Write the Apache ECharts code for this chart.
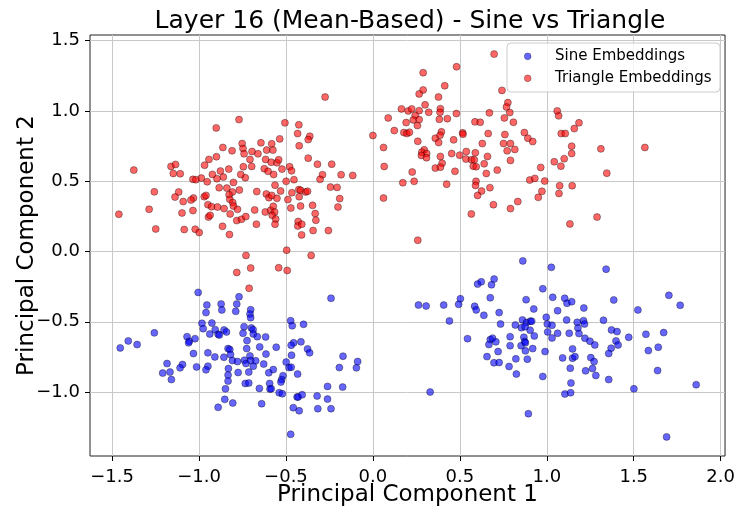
<!DOCTYPE html>
<html>
<head>
<meta charset="utf-8">
<script src="https://cdn.jsdelivr.net/npm/echarts@6/dist/echarts.min.js"></script>
<style>
  html, body { margin: 0; padding: 0; background: #fff; }
  #chart { width: 738px; height: 512px; }
</style>
</head>
<body>
<div id="chart"></div>
<script>
// PCA projection of layer-16 mean embeddings: [PC1, PC2] per sample
const sinePoints = [
  [-1.005,-0.291],[-0.955,-0.381],[-0.960,-0.435],[-0.873,-0.374],[-0.869,-0.416],[-1.257,-0.579],[-1.407,-0.636],[-1.356,-0.662],[-1.453,-0.686],[-0.983,-0.511],
  [-0.926,-0.509],[-0.976,-0.549],[-0.938,-0.587],[-0.907,-0.556],[-0.890,-0.589],[-0.883,-0.594],[-0.856,-0.558],[-0.842,-0.572],[-1.069,-0.606],[-1.056,-0.638],
  [-1.060,-0.650],[-1.023,-0.620],[-1.032,-0.726],[-0.949,-0.721],[-0.909,-0.750],[-0.857,-0.752],[-0.833,-0.691],[-0.823,-0.698],[-0.819,-0.733],[-0.808,-0.776],
  [-1.184,-0.797],[-1.095,-0.804],[-1.109,-0.828],[-1.209,-0.865],[-1.167,-0.858],[-1.159,-0.911],[-1.014,-0.821],[-0.949,-0.816],[-0.960,-0.842],[-0.831,-0.833],
  [-0.833,-0.879],[-0.833,-0.922],[-0.848,-0.977],[-0.852,-1.052],[-0.806,-1.078],[-0.890,-1.109],
  [-0.241,-0.333],[-0.770,-0.322],[-0.783,-0.374],[-0.789,-0.426],[-0.703,-0.414],[-0.707,-0.445],[-0.703,-0.471],[-0.741,-0.535],[-0.747,-0.582],[-0.699,-0.544],
  [-0.689,-0.556],[-0.688,-0.587],[-0.665,-0.606],[-0.617,-0.608],[-0.724,-0.634],[-0.726,-0.691],[-0.651,-0.679],[-0.615,-0.730],[-0.556,-0.681],[-0.473,-0.492],
  [-0.464,-0.528],[-0.399,-0.518],[-0.414,-0.643],[-0.456,-0.650],[-0.470,-0.667],[-0.376,-0.693],[-0.364,-0.721],[-0.468,-0.738],[-0.779,-0.783],[-0.739,-0.773],
  [-0.730,-0.797],[-0.707,-0.743],[-0.703,-0.776],[-0.674,-0.778],[-0.688,-0.816],[-0.628,-0.801],[-0.775,-0.861],[-0.714,-0.858],[-0.599,-0.863],[-0.573,-0.840],
  [-0.499,-0.787],[-0.483,-0.826],[-0.470,-0.823],[-0.433,-0.872],[-0.517,-0.884],[-0.525,-0.911],[-0.529,-0.929],[-0.734,-0.939],[-0.714,-0.936],[-0.594,-0.939],
  [-0.592,-0.979],[-0.585,-0.977],[-0.653,-0.974],[-0.539,-1.005],[-0.521,-1.012],[-0.436,-1.035],[-0.430,-1.035],[-0.407,-1.019],[-0.321,-1.028],[-0.261,-0.960],
  [-0.261,-1.050],[-0.174,-0.965],[-0.193,-0.826],[-0.172,-0.745],[-0.095,-0.828],[-0.088,-0.783],[-0.640,-1.083],[-0.458,-1.111],[-0.424,-1.133],[-0.317,-1.118],
  [-0.241,-1.118],[-0.473,-1.301],
  [0.862,-0.067],[0.602,-0.232],[0.623,-0.216],[0.697,-0.196],[0.682,-0.237],[0.977,-0.265],[0.675,-0.329],[0.881,-0.343],[0.503,-0.336],[0.493,-0.376],
  [0.262,-0.381],[0.306,-0.388],[0.407,-0.381],[0.585,-0.390],[0.594,-0.416],[0.638,-0.454],[0.726,-0.435],[0.925,-0.409],[0.440,-0.494],[0.734,-0.516],
  [0.819,-0.523],[0.854,-0.542],[0.860,-0.487],[0.883,-0.506],[0.905,-0.496],[0.913,-0.496],[0.904,-0.560],[0.875,-0.535],[0.544,-0.620],[0.675,-0.627],
  [0.688,-0.617],[0.667,-0.662],[0.707,-0.643],[0.789,-0.606],[0.789,-0.670],[0.868,-0.610],[0.873,-0.641],[0.852,-0.670],[0.877,-0.650],[0.928,-0.601],
  [0.720,-0.712],[0.919,-0.691],[0.877,-0.707],[0.990,-0.712],[0.656,-0.748],[0.696,-0.792],[0.726,-0.790],[0.822,-0.764],[0.888,-0.766],[0.783,-0.818],
  [0.825,-0.872],[0.977,-0.889],[0.329,-1.000],[0.894,-1.154],[0.997,-0.468],[1.003,-0.516],[1.005,-0.572],
  [1.026,-0.113],[1.341,-0.126],[1.034,-0.326],[1.103,-0.333],[1.116,-0.369],[1.143,-0.357],[1.213,-0.402],[1.385,-0.345],[1.062,-0.421],[1.030,-0.525],
  [1.030,-0.615],[1.114,-0.487],[1.175,-0.504],[1.211,-0.492],[1.217,-0.516],[1.179,-0.544],[1.185,-0.584],[1.062,-0.582],[1.129,-0.582],[1.326,-0.489],
  [1.372,-0.558],[1.404,-0.570],[1.471,-0.610],[1.219,-0.617],[1.248,-0.638],[1.276,-0.665],[1.398,-0.636],[1.410,-0.665],[1.370,-0.688],[1.356,-0.726],
  [1.524,-0.416],[1.702,-0.312],[1.767,-0.383],[1.570,-0.589],[1.672,-0.577],[1.584,-0.705],[1.641,-0.681],[1.148,-0.693],[1.091,-0.757],[1.148,-0.759],
  [1.162,-0.748],[1.253,-0.755],[1.272,-0.783],[1.135,-0.830],[1.223,-0.849],[1.263,-0.833],[1.282,-0.882],[1.356,-0.911],[1.637,-0.847],[1.139,-0.936],
  [1.104,-1.014],[1.137,-1.005],[1.501,-0.977],[1.859,-0.948],[1.689,-1.319]
];

const trianglePoints = [
  [-0.770,0.938],[-0.901,0.879],[-0.752,0.768],[-0.747,0.733],[-0.741,0.695],[-0.734,0.525],[-0.745,0.603],[-0.760,0.548],[-0.863,0.740],[-0.810,0.716],
  [-0.900,0.674],[-0.943,0.655],[-0.968,0.614],[-1.161,0.605],[-1.135,0.619],[-1.148,0.555],[-1.108,0.553],[-1.375,0.579],[-0.829,0.586],[-0.877,0.572],
  [-0.860,0.529],[-0.923,0.548],[-0.897,0.518],[-1.035,0.513],[-1.018,0.511],[-0.987,0.522],[-0.953,0.496],[-0.802,0.491],[-0.768,0.437],[-0.840,0.451],
  [-0.884,0.454],[-0.808,0.423],[-1.257,0.424],[-1.117,0.423],[-1.138,0.387],[-1.032,0.380],[-1.091,0.355],[-1.046,0.366],[-0.970,0.390],[-0.960,0.399],
  [-0.827,0.404],[-0.823,0.371],[-0.806,0.348],[-0.802,0.323],[-0.779,0.300],[-0.949,0.333],[-0.928,0.319],[-0.894,0.316],[-0.856,0.305],[-0.821,0.267],
  [-1.287,0.300],[-1.098,0.274],[-1.035,0.291],[-0.946,0.245],[-0.936,0.257],[-0.783,0.220],[-0.756,0.229],[-0.731,0.248],[-1.249,0.160],[-1.085,0.156],
  [-1.022,0.158],[-0.999,0.135],[-0.865,0.179],[-0.825,0.121],[-0.730,-0.028],[-0.783,-0.149],[-1.461,0.265],[-0.712,-0.262],
  [-0.275,1.099],[-0.506,0.915],[-0.426,0.901],[-0.433,0.839],[-0.363,0.820],[-0.372,0.796],[-0.536,0.801],[-0.644,0.773],[-0.582,0.766],[-0.424,0.752],
  [-0.695,0.711],[-0.661,0.695],[-0.611,0.721],[-0.575,0.721],[-0.707,0.655],[-0.697,0.605],[-0.617,0.655],[-0.585,0.635],[-0.552,0.631],[-0.542,0.652],
  [-0.372,0.664],[-0.319,0.621],[-0.237,0.621],[-0.625,0.589],[-0.603,0.570],[-0.571,0.548],[-0.523,0.586],[-0.479,0.603],[-0.468,0.574],[-0.290,0.546],
  [-0.304,0.513],[-0.183,0.546],[-0.116,0.541],[-0.499,0.499],[-0.454,0.511],[-0.563,0.472],[-0.531,0.430],[-0.668,0.426],[-0.613,0.409],[-0.598,0.383],
  [-0.582,0.399],[-0.552,0.378],[-0.489,0.369],[-0.466,0.418],[-0.426,0.440],[-0.416,0.435],[-0.387,0.423],[-0.376,0.428],[-0.424,0.390],[-0.244,0.458],
  [-0.206,0.456],[-0.191,0.376],[-0.201,0.316],[-0.680,0.295],[-0.619,0.281],[-0.588,0.293],[-0.573,0.321],[-0.565,0.281],[-0.579,0.257],[-0.559,0.231],
  [-0.472,0.309],[-0.416,0.323],[-0.347,0.328],[-0.332,0.270],[-0.328,0.222],[-0.670,0.194],[-0.563,0.194],[-0.430,0.213],[-0.432,0.182],[-0.409,0.194],
  [-0.410,0.118],[-0.344,0.149],[-0.256,0.149],[-0.496,0.009],[-0.355,-0.028],[-0.703,-0.118],[-0.542,-0.116],[-0.493,-0.135],
  [0.697,1.404],[0.481,1.314],[0.289,1.272],[0.413,1.179],[0.289,1.149],[0.266,1.121],[0.742,1.146],[0.377,1.099],[0.300,1.043],[0.164,1.014],
  [0.203,1.000],[0.223,1.014],[0.266,1.002],[0.321,0.990],[0.388,1.016],[0.386,0.990],[0.243,0.967],[0.232,0.936],[0.266,0.938],[0.191,0.917],
  [0.256,0.896],[0.088,0.950],[0.382,0.940],[0.428,0.945],[0.480,0.981],[0.587,0.922],[0.617,0.919],[0.670,0.986],[0.123,0.860],[0.178,0.846],
  [0.195,0.839],[0.210,0.848],[0.000,0.825],[0.258,0.784],[0.359,0.806],[0.394,0.851],[0.386,0.827],[0.378,0.775],[0.464,0.794],[0.516,0.844],
  [0.518,0.834],[0.663,0.839],[0.629,0.768],[0.061,0.740],[0.295,0.723],[0.281,0.706],[0.309,0.697],[0.279,0.683],[0.308,0.667],[0.388,0.676],
  [0.453,0.697],[0.499,0.685],[0.537,0.711],[0.589,0.702],[0.659,0.676],[0.535,0.657],[0.567,0.652],[0.583,0.652],[0.577,0.607],[0.594,0.603],
  [0.640,0.624],[0.398,0.628],[0.359,0.593],[0.388,0.600],[0.065,0.605],[0.226,0.565],[0.472,0.570],[0.652,0.555],[0.715,0.579],[0.172,0.489],
  [0.237,0.499],[0.424,0.479],[0.593,0.499],[0.590,0.470],[0.625,0.430],[0.673,0.454],[0.602,0.399],[0.061,0.380],[0.693,0.333],[0.566,0.267],
  [0.258,0.080],
  [0.776,1.059],[0.768,1.028],[0.787,0.988],[0.756,0.950],[0.808,0.919],[0.759,0.832],[0.871,0.846],[0.891,0.806],[0.919,0.782],[0.751,0.768],
  [0.791,0.768],[0.772,0.716],[0.816,0.726],[0.791,0.648],[1.060,1.000],[1.068,0.965],[1.185,0.915],[1.158,0.874],[1.083,0.839],[1.106,0.839],
  [1.143,0.749],[1.143,0.697],[1.100,0.660],[1.043,0.638],[1.081,0.607],[1.311,0.730],[1.564,0.740],[1.345,0.557],[0.965,0.598],[0.902,0.508],
  [0.931,0.520],[0.988,0.501],[1.074,0.468],[1.146,0.468],[0.972,0.428],[1.070,0.413],[0.951,0.385],[0.833,0.355],[0.791,0.305],[1.289,0.245],
  [1.133,0.196]
];

const xTicks = [-1.5, -1.0, -0.5, 0.0, 0.5, 1.0, 1.5, 2.0];
const yTicks = [-1.0, -0.5, 0.0, 0.5, 1.0, 1.5];
const seriesNames = ['Sine Embeddings', 'Triangle Embeddings'];
const seriesColors = ['rgba(0,0,255,0.6)', 'rgba(255,0,0,0.6)'];

const FONT = 'DejaVu Sans';
const EDGE = 'rgba(0,0,0,0.6)';
const fmt = v => (v < 0 ? '\u2212' : '') + Math.abs(v).toFixed(1);

const chart = echarts.init(document.getElementById('chart'), null, { renderer: 'canvas' });

const axisCommon = {
  type: 'value',
  nameLocation: 'middle',
  nameMoveOverlap: false,
  nameTextStyle: { fontFamily: FONT, fontSize: 23, color: '#000' },
  axisLine: { show: false, onZero: false },
  axisTick: { show: true, length: 5, inside: false, lineStyle: { color: '#000', width: 1 } },
  axisLabel: { fontFamily: FONT, fontSize: 18, color: '#000', formatter: fmt },
  splitLine: { show: true, lineStyle: { color: '#c8c8c8', width: 1 } }
};

// Boxed legend in the upper-right corner of the plot area
const legendBox = { x: 507, y: 43, w: 213, h: 49 };
const legendRows = [56.3, 78.3];
const legendGraphics = [{
  type: 'rect', z: 100,
  shape: { x: legendBox.x, y: legendBox.y, width: legendBox.w, height: legendBox.h, r: 4 },
  style: { fill: 'rgba(255,255,255,0.8)', stroke: '#cccccc', lineWidth: 1 }
}];
seriesNames.forEach((name, i) => {
  legendGraphics.push({
    type: 'circle', z: 101,
    shape: { cx: 527.7, cy: legendRows[i], r: 3.4 },
    style: { fill: seriesColors[i], stroke: EDGE, lineWidth: 0.5 }
  });
  legendGraphics.push({
    type: 'text', z: 101, x: 555, y: legendRows[i],
    style: { text: name, fontFamily: FONT, fontSize: 15, fill: '#000', textAlign: 'left', textVerticalAlign: 'middle' }
  });
});

chart.setOption({
  animation: false,
  backgroundColor: '#fff',
  grid: {
    left: 90, top: 35, width: 638, height: 423,
    show: true, borderColor: '#222', borderWidth: 1
  },
  graphic: [{
    type: 'text', x: 410, y: 21,
    style: {
      text: 'Layer 16 (Mean-Based) - Sine vs Triangle',
      fontFamily: FONT, fontSize: 25, fill: '#000',
      textAlign: 'center', textVerticalAlign: 'middle'
    }
  }].concat(legendGraphics),
  xAxis: Object.assign({}, axisCommon, {
    min: -1.627, max: 2.025,
    name: 'Principal Component 1', nameGap: 28,
    axisLabel: Object.assign({}, axisCommon.axisLabel, { margin: 12, customValues: xTicks }),
    axisTick: Object.assign({}, axisCommon.axisTick, { customValues: xTicks })
  }),
  yAxis: Object.assign({}, axisCommon, {
    min: -1.455, max: 1.540,
    name: 'Principal Component 2', nameGap: 51,
    axisLabel: Object.assign({}, axisCommon.axisLabel, { margin: 10, customValues: yTicks }),
    axisTick: Object.assign({}, axisCommon.axisTick, { customValues: yTicks })
  }),
  series: [
    {
      name: seriesNames[0], type: 'scatter', data: sinePoints,
      symbolSize: 7,
      itemStyle: { color: seriesColors[0], borderColor: EDGE, borderWidth: 0.6, opacity: 1 }
    },
    {
      name: seriesNames[1], type: 'scatter', data: trianglePoints,
      symbolSize: 7,
      itemStyle: { color: seriesColors[1], borderColor: EDGE, borderWidth: 0.6, opacity: 1 }
    }
  ]
});
</script>
</body>
</html>
